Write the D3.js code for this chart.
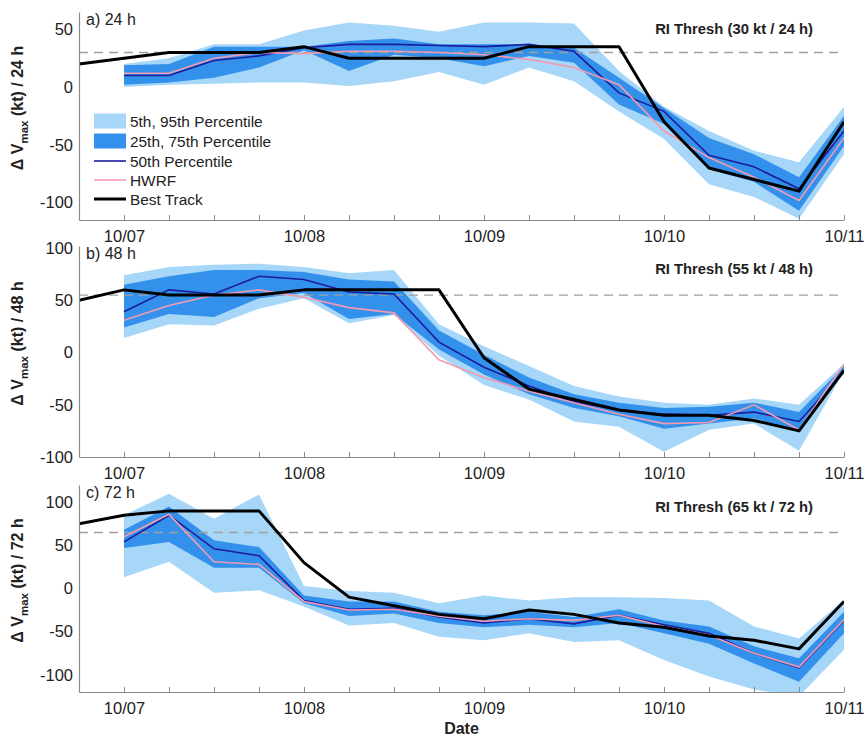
<!DOCTYPE html>
<html><head><meta charset="utf-8">
<script src="https://cdn.jsdelivr.net/npm/d3@7"></script>
<style>
body{margin:0;background:#fff;}
text{font-family:"Liberation Sans",Arial,Helvetica,sans-serif;}
</style></head>
<body><svg id="chart" width="866" height="736"></svg>
<script>
// ---------- data ----------
const fcstTimes = ["2018-10-07T00:00Z","2018-10-07T06:00Z","2018-10-07T12:00Z","2018-10-07T18:00Z",
  "2018-10-08T00:00Z","2018-10-08T06:00Z","2018-10-08T12:00Z","2018-10-08T18:00Z",
  "2018-10-09T00:00Z","2018-10-09T06:00Z","2018-10-09T12:00Z","2018-10-09T18:00Z",
  "2018-10-10T00:00Z","2018-10-10T06:00Z","2018-10-10T12:00Z","2018-10-10T18:00Z","2018-10-11T00:00Z"];
const btTimes = ["2018-10-06T18:00Z","2018-10-07T00:00Z","2018-10-07T06:00Z","2018-10-07T12:00Z","2018-10-07T18:00Z",
  "2018-10-08T00:00Z","2018-10-08T06:00Z","2018-10-08T12:00Z","2018-10-08T18:00Z",
  "2018-10-09T00:00Z","2018-10-09T06:00Z","2018-10-09T12:00Z","2018-10-09T18:00Z",
  "2018-10-10T00:00Z","2018-10-10T06:00Z","2018-10-10T12:00Z","2018-10-10T18:00Z","2018-10-11T00:00Z"];
const xTickLabels = ["10/07","10/08","10/09","10/10","10/11"];

// panel a) 24 h
const p5A   = [0, 2, 3, 4, 4, 1, 5, 13, 2, 17, 5, -21, -45, -84, -95, -114, -58];
const p25A  = [2, 4, 8, 17, 32, 14, 28, 25, 18, 27, 21, -15, -32, -71, -82, -107, -51];
const p50A  = [10, 10, 23, 27, 34, 37, 37, 36, 35, 37, 31, -5, -21, -59, -69, -88, -38];
const p75A  = [19, 20, 35, 35, 35, 40, 42, 37, 37, 37, 34, 8, -18, -44, -58, -78, -25];
const p95A  = [20, 25, 37, 37, 49, 56, 53, 48, 56, 56, 55, 14, -17, -38, -55, -65, -17];
const hwrfA = [12, 12, 25, 30, 29, 31, 31, 30, 28, 24, 17, 2, -38, -61, -78, -98, -44];
const btA   = [20, 25, 30, 30, 30, 35, 25, 25, 25, 25, 35, 35, 35, -30, -70, -80, -90, -30];

// panel b) 48 h
const p5B   = [14, 27, 26, 42, 52, 28, 36, -3, -31, -45, -66, -71, -95, -74, -68, -94, -18];
const p25B  = [24, 37, 34, 52, 57, 32, 37, 3, -21, -40, -53, -61, -73, -68, -63, -76, -17];
const p50B  = [39, 60, 56, 73, 70, 58, 56, 10, -14, -32, -47, -55, -59, -60, -57, -66, -19];
const p75B  = [65, 73, 79, 79, 77, 70, 68, 21, -2, -24, -40, -48, -53, -52, -48, -57, -13];
const p95B  = [74, 82, 84, 85, 82, 76, 79, 27, 6, -13, -32, -42, -48, -50, -44, -50, -11];
const hwrfB = [31, 45, 55, 60, 53, 43, 38, -7, -24, -37, -48, -59, -68, -67, -50, -74, -11];
const btB   = [50, 60, 55, 55, 55, 60, 60, 60, 60, -5, -35, -45, -55, -60, -60, -65, -75, -17];

// panel c) 72 h
const p5C   = [13, 31, -5, -2, -21, -43, -40, -56, -60, -52, -62, -60, -83, -102, -117, -125, -71];
const p25C  = [47, 54, 24, 24, -17, -32, -29, -40, -45, -42, -45, -40, -52, -64, -87, -108, -52];
const p50C  = [54, 85, 46, 38, -14, -24, -23, -33, -40, -35, -41, -31, -42, -52, -75, -92, -37];
const p75C  = [68, 95, 56, 48, -8, -15, -15, -27, -31, -27, -33, -24, -37, -44, -67, -81, -27];
const p95C  = [85, 110, 81, 109, 3, -3, -5, -17, -8, -14, -10, -10, -11, -14, -44, -58, -13];
const hwrfC = [60, 86, 31, 28, -15, -25, -24, -32, -38, -35, -37, -31, -44, -54, -75, -91, -36];
const btC   = [75, 85, 90, 90, 90, 30, -10, -20, -30, -35, -25, -30, -40, -45, -55, -60, -70, -15];

const thresholds = [30, 55, 65];
const threshLabels = ["RI Thresh (30 kt / 24 h)","RI Thresh (55 kt / 48 h)","RI Thresh (65 kt / 72 h)"];
const panelTitles = ["a) 24 h","b) 48 h","c) 72 h"];
const leadLabels = ["24 h","48 h","72 h"];
const yDomains = [[-115, 65], [-100, 102], [-120, 120]];
const yTicks = [[-100,-50,0,50],[-100,-50,0,50,100],[-100,-50,0,50,100]];
const legendLabels = ["5th, 95th Percentile","25th, 75th Percentile","50th Percentile","HWRF","Best Track"];

// ---------- layout / style ----------
const C = {light:"#a6d6f8", dark:"#3391ec", med:"#1c1c9c", hwrf:"#f29ab0", bt:"#000000",
           axis:"#8a8a8a", text:"#222222", dash:"#a0a0a0"};
const left = 79, right = 844;
const boxes = [{top:12,bottom:220,threshDy:22},{top:246,bottom:457,threshDy:28},{top:485,bottom:692,threshDy:27}];

const parse = d3.utcParse("%Y-%m-%dT%H:%M%Z");
const ft = fcstTimes.map(s => parse(s));
const bt = btTimes.map(s => parse(s));
const x = d3.scaleUtc().domain([bt[0], ft[ft.length-1]]).range([left, right]);

const svg = d3.select("#chart");
const panels = [
  {p5:p5A,p25:p25A,p50:p50A,p75:p75A,p95:p95A,hwrf:hwrfA,bt:btA},
  {p5:p5B,p25:p25B,p50:p50B,p75:p75B,p95:p95B,hwrf:hwrfB,bt:btB},
  {p5:p5C,p25:p25C,p50:p50C,p75:p75C,p95:p95C,hwrf:hwrfC,bt:btC}
];

panels.forEach((P, i) => {
  const b = boxes[i];
  const y = d3.scaleLinear().domain(yDomains[i]).range([b.bottom, b.top]);
  const g = svg.append("g");
  const clipId = "clip" + i;
  svg.append("clipPath").attr("id", clipId).append("rect")
    .attr("x", left).attr("y", b.top).attr("width", right-left).attr("height", b.bottom-b.top);
  const plot = g.append("g").attr("clip-path", `url(#${clipId})`);

  const band = (lo, hi) => d3.area().x((d,k)=>x(ft[k])).y0((d,k)=>y(lo[k])).y1((d,k)=>y(hi[k]))(ft);
  plot.append("path").attr("d", band(P.p5, P.p95)).attr("fill", C.light);
  plot.append("path").attr("d", band(P.p25, P.p75)).attr("fill", C.dark);

  // threshold
  plot.append("line").attr("x1", left).attr("x2", right-1)
    .attr("y1", y(thresholds[i])).attr("y2", y(thresholds[i]))
    .attr("stroke", C.dash).attr("stroke-width", 1.4).attr("stroke-dasharray", "9,6");

  const line = (arr, times) => d3.line().x((d,k)=>x(times[k])).y(d=>y(d))(arr);
  plot.append("path").attr("d", line(P.p50, ft)).attr("fill","none").attr("stroke", C.med).attr("stroke-width", 1.6);
  plot.append("path").attr("d", line(P.hwrf, ft)).attr("fill","none").attr("stroke", C.hwrf).attr("stroke-width", 1.6);
  plot.append("path").attr("d", line(P.bt, bt)).attr("fill","none").attr("stroke", C.bt).attr("stroke-width", 3).attr("stroke-linejoin","round");

  // axes
  const xAxis = d3.axisBottom(x).tickValues(bt.slice(1))
    .tickFormat(d => d.getUTCHours() === 0 ? xTickLabels[(d - ft[0]) / 864e5] : "")
    .tickSize(-5).tickSizeOuter(0).tickPadding(10);
  const gx = g.append("g").attr("transform", `translate(0,${b.bottom})`).call(xAxis);
  const yAxis = d3.axisLeft(y).tickValues(yTicks[i]).tickFormat(d => String(d))
    .tickSize(-5).tickSizeOuter(0).tickPadding(6);
  const gy = g.append("g").attr("transform", `translate(${left},0)`).call(yAxis);
  [gx, gy].forEach(a => {
    a.selectAll("path.domain").attr("stroke", C.axis).attr("stroke-width", 1.2);
    a.selectAll(".tick line").attr("stroke", C.axis).attr("stroke-width", 1);
    a.selectAll("text").attr("fill", C.text).style("font-size", "16.5px")
      .style("font-family", '"Liberation Sans",Arial,sans-serif');
  });
  gy.selectAll(".tick line").attr("stroke-opacity", 0.0);

  // panel title
  g.append("text").attr("x", left + 7).attr("y", b.top + 13).attr("fill", C.text)
    .style("font-size", "16px").text(panelTitles[i]);
  // threshold label
  g.append("text").attr("x", 813).attr("y", b.top + b.threshDy).attr("text-anchor","end")
    .attr("fill", C.text).style("font-size", "14.8px").style("font-weight","bold").text(threshLabels[i]);

  // y label
  const cy = (b.top + b.bottom) / 2 - 8;
  const yl = g.append("text").attr("transform", `translate(23,${cy}) rotate(-90)`)
    .attr("text-anchor","middle").attr("fill", C.text)
    .style("font-size","16px").style("font-weight","bold");
  yl.append("tspan").text("\u0394 V");
  yl.append("tspan").attr("dy", 5).style("font-size","11.5px").text("max");
  yl.append("tspan").attr("dy", -5).text(" (kt) / " + leadLabels[i]);
});

// x title
svg.append("text").attr("x", (left+right)/2).attr("y", 734).attr("text-anchor","middle")
  .attr("fill", C.text).style("font-size","16px").style("font-weight","bold").text("Date");

// legend (panel a)
const lg = svg.append("g");
const lx0 = 94, lx1 = 126, rows = [121, 141, 161, 180, 199];
lg.append("rect").attr("x", lx0).attr("y", rows[0]-7.5).attr("width", lx1-lx0).attr("height", 15).attr("fill", C.light);
lg.append("rect").attr("x", lx0).attr("y", rows[1]-7.5).attr("width", lx1-lx0).attr("height", 15).attr("fill", C.dark);
lg.append("line").attr("x1", lx0).attr("x2", lx1).attr("y1", rows[2]).attr("y2", rows[2]).attr("stroke", C.med).attr("stroke-width", 1.6);
lg.append("line").attr("x1", lx0).attr("x2", lx1).attr("y1", rows[3]).attr("y2", rows[3]).attr("stroke", C.hwrf).attr("stroke-width", 1.6);
lg.append("line").attr("x1", lx0).attr("x2", lx1).attr("y1", rows[4]).attr("y2", rows[4]).attr("stroke", C.bt).attr("stroke-width", 3);
legendLabels.forEach((t, k) => {
  lg.append("text").attr("x", 130).attr("y", rows[k]).attr("dy", "0.36em").attr("fill", C.text)
    .style("font-size","15.4px").text(t);
});
</script></body></html>
